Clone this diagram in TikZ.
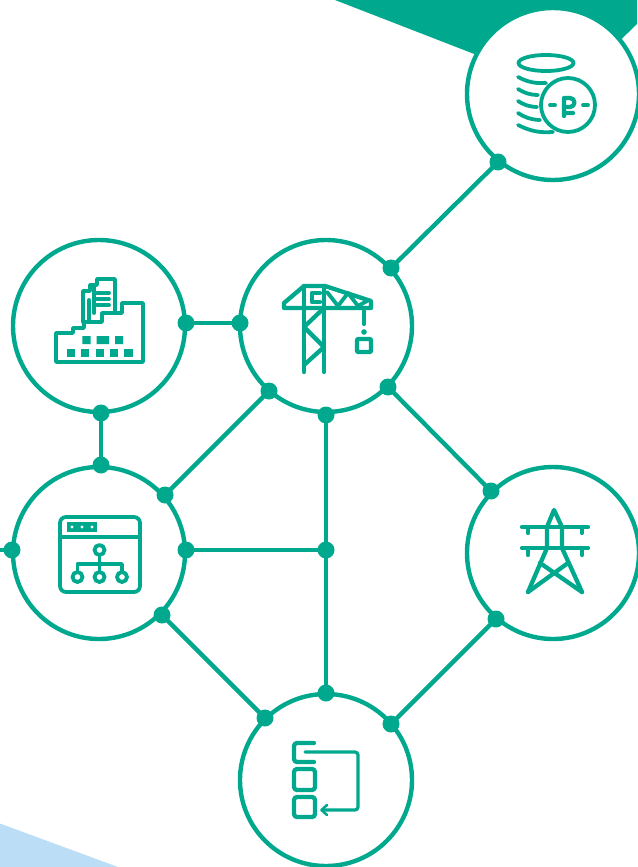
\documentclass[tikz,border=0pt]{standalone}
\usepackage{tikz}
\usetikzlibrary{arrows.meta}
\definecolor{tealgreen}{HTML}{00A98E}
\definecolor{paleblue}{HTML}{BBDEF6}
\tikzset{
  ring/.style={draw=tealgreen, fill=white, shape=circle, line width=4.4pt, minimum size=172pt, inner sep=0pt},
  joint/.style={fill=tealgreen, shape=circle, minimum size=17pt, inner sep=0pt, outer sep=0pt},
  link/.style={draw=tealgreen, line width=4.4pt, shorten <=-3pt, shorten >=-3pt},
  icon/.style={draw=tealgreen, line width=3.8pt, line join=round, line cap=round},
  bold icon/.style={icon, line width=4.3pt},
}

\begin{document}
\begin{tikzpicture}[x=1pt, y=-1pt]
  \useasboundingbox (0,0) rectangle (637,867);
  % corner wedges
  \fill[tealgreen] (335,0) -- (637,0) -- (637,24) -- (600,60) -- (500,64) -- cycle;
  \fill[paleblue] (0,823.5) -- (118,867) -- (0,867) -- cycle;
  %
  % the six rings
  \node[ring] (coins) at (553,94) {};
  \node[ring] (crane) at (326,326) {};
  \node[ring] (plant) at (99,326) {};
  \node[ring] (chart) at (99,553) {};
  \node[ring] (tower) at (553,553) {};
  \node[ring] (flow) at (326,780) {};
  %
  % joints and links
  \node[joint] (coins south)  at (498,162) {};
  \node[joint] (crane north)  at (391,268) {};
  \node[joint] (crane west)   at (240,323) {};
  \node[joint] (plant east)   at (186,323) {};
  \node[joint] (plant south)  at (101,413) {};
  \node[joint] (chart north)  at (101,465) {};
  \node[joint] (crane sw)     at (269,391) {};
  \node[joint] (chart ne)     at (165,495) {};
  \node[joint] (crane south)  at (326,415) {};
  \node[joint] (flow north)   at (326,693) {};
  \node[joint] (crane se)     at (388,387) {};
  \node[joint] (tower nw)     at (491,491) {};
  \node[joint] (chart east)   at (186,550) {};
  \node[joint] (branch)       at (326,550) {};
  \node[joint] (chart se)     at (162,615) {};
  \node[joint] (flow nw)      at (265,718) {};
  \node[joint] (tower sw)     at (496,619) {};
  \node[joint] (flow ne)      at (391,724) {};
  \node[joint] (chart west)   at (12,550) {};
  \coordinate (page edge) at (0,550);
  \draw[link] (coins south) -- (crane north);
  \draw[link] (plant east) -- (crane west);
  \draw[link] (plant south) -- (chart north);
  \draw[link] (crane sw) -- (chart ne);
  \draw[link] (crane south) -- (flow north);
  \draw[link] (crane se) -- (tower nw);
  \draw[link] (chart east) -- (branch);
  \draw[link] (chart se) -- (flow nw);
  \draw[link] (tower sw) -- (flow ne);
  \draw[link] (chart west) -- (page edge);
  %
  % coins
  \draw[icon] (546,63) ellipse (27.5pt and 8pt);
  \draw[icon] (518,77) to[bend right=15] (546,83);
  \draw[icon] (518,89) to[bend right=15] (538,95);
  \draw[icon] (518,101) to[bend right=15] (537,107);
  \draw[icon] (518,113) to[bend right=15] (540,120);
  \draw[icon] (518,125) to[bend right=15] (553,132);
  \draw[icon] (568,105) circle (27pt);
  \draw[icon] (550,105) -- (555,105) (583,105) -- (588,105);
  \draw[bold icon] (564,116) -- (564,98) -- (570,98) arc (90:-90:4.5pt) -- (564,107) (564,113) -- (573,113);
  %
  % crane
  \draw[bold icon] (284,308) -- (284,303) -- (304,286) -- (325,286) -- (371,301) -- (371,308) -- cycle;
  \draw[bold icon] (304,286) -- (304,372) (324,286) -- (324,372);
  \draw[bold icon] (320,293) -- (312,293) -- (312,302) -- (320,302);
  \draw[bold icon] (304,327) -- (324,308) (304,327) -- (324,347) -- (304,365);
  \draw[icon] (327,292) -- (338,306) -- (348,293) -- (358,306) -- (367,301);
  \draw[bold icon] (364,308) -- (364,324);
  \fill[tealgreen] (364,332) circle (2.8pt);
  \draw[bold icon, rounded corners=1pt] (357,339) rectangle (371,352);
  %
  % plant with documents
  \draw[icon] (56,362) -- (56,333) -- (73,333) -- (73,328) -- (84,328) -- (84,322) -- (102,322)
    -- (102,313) -- (122,313) -- (122,303) -- (143,303) -- (143,362) -- cycle;
  \draw[icon] (83,322) -- (83,291) -- (90,291) -- (90,285) -- (97,285) -- (97,279) -- (115,279) -- (115,313);
  \draw[icon] (89,300) -- (89,322) (94,285) -- (94,313);
  \draw[icon] (97,293) -- (109,293) (97,299) -- (109,299) (97,305) -- (109,305);
  \fill[tealgreen] (82.3,336) rectangle (90.7,344) (96.7,336) rectangle (109,344) (115,336) rectangle (123,344);
  \foreach \x in {66.7,81,95.7,110,124.3} \fill[tealgreen] (\x,349) rectangle +(8.3,7.7);
  %
  % site chart
  \draw[icon, rounded corners=6pt] (60,517) rectangle (140,592);
  \draw[icon] (60,537) -- (140,537);
  \fill[tealgreen] (67,522) rectangle (97,532);
  \foreach \x in {72,82,92} \fill[white] (\x,527) circle (1.6pt);
  \foreach \x in {77.5,99.5,122} \draw[icon] (\x,577) circle (5pt);
  \draw[icon] (99.5,550) circle (5pt);
  \draw[icon] (99.5,555) -- (99.5,572) (77.5,572) -- (77.5,564) -- (122,564) -- (122,572);
  %
  % pylon
  \draw[bold icon] (528,592) -- (547,548) -- (547,527) -- (554,510) -- (562,527) -- (562,548) -- (582,592);
  \draw[bold icon] (522,527) -- (588,527) (522,548) -- (588,548);
  \draw[bold icon] (540,563) -- (582,592) (568,563) -- (528,592);
  \foreach \x in {528,582} {
    \draw[bold icon] (\x,527) -- (\x,533) (\x,548) -- (\x,555);
  }
  %
  % steps with a loop back
  \draw[bold icon, rounded corners=3pt] (314,743) -- (294,743) -- (294,762) -- (314,762);
  \draw[bold icon, rounded corners=3pt] (294,769) rectangle (315,790);
  \draw[bold icon, rounded corners=3pt] (294,797) rectangle (315,817);
  \draw[icon, line width=3.2pt, rounded corners=3pt] (305,752) -- (358,752) -- (358,810) -- (323,810);
  \draw[icon, line width=2.6pt] (327,805) -- (321.5,810) -- (327,815);
\end{tikzpicture}
\end{document}
